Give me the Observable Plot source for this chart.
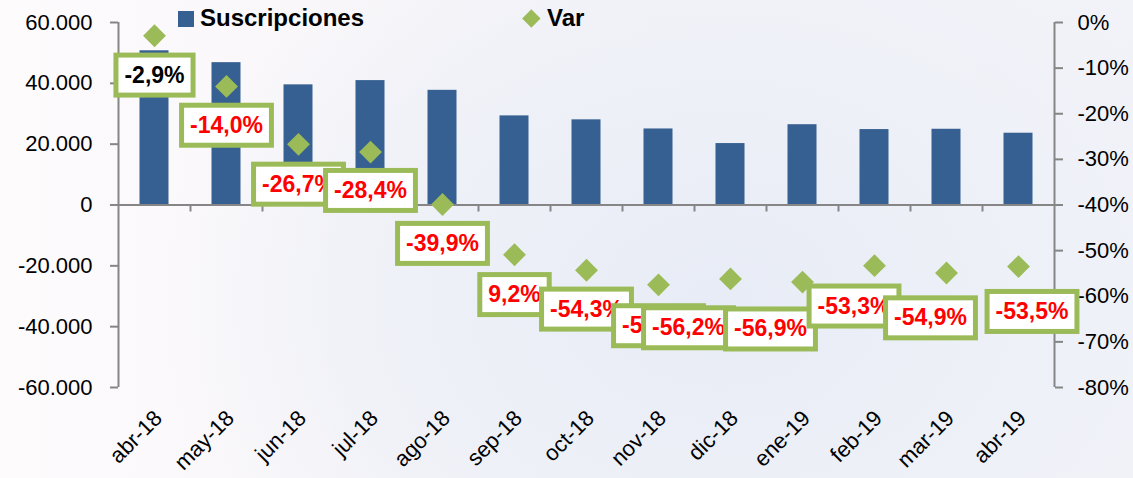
<!DOCTYPE html>
<html>
<head>
<meta charset="utf-8">
<script src="https://cdn.jsdelivr.net/npm/d3@7"></script>
<script src="https://cdn.jsdelivr.net/npm/@observablehq/plot@0.6"></script>
<style>
  html, body { margin: 0; padding: 0; }
  body {
    width: 1133px; height: 478px; overflow: hidden;
    font-family: "Liberation Sans", Arial, sans-serif;
    background:
      radial-gradient(ellipse 560px 420px at 720px 300px, #e8ecf6 0%, #edf0f7 50%, rgba(250,249,252,0) 100%),
      linear-gradient(90deg, #fdfbfc 0%, #f7f5f9 40%, #f2f3f9 100%);
  }
  #wrap { position: relative; width: 1133px; height: 478px; }
  #wrap svg { position: absolute; left: 0; top: 0; background: transparent; }
  .leg { position: absolute; font-size: 24px; line-height: 24px; font-weight: bold; color: #000; white-space: nowrap; }
  .sq { position: absolute; width: 16px; height: 16px; background: #376092; }
  .dm { position: absolute; width: 12.7px; height: 12.7px; background: #9BBB59; transform: rotate(45deg); }
</style>
</head>
<body>
<div id="wrap">
</div>
<script>
// ---- data ----
const months = ["abr-18","may-18","jun-18","jul-18","ago-18","sep-18","oct-18","nov-18","dic-18","ene-19","feb-19","mar-19","abr-19"];
const suscripciones = [50700, 46800, 39500, 40900, 37700, 29300, 28000, 25000, 20200, 26400, 24800, 24900, 23600];
const varPct = [-2.9, -14.0, -26.7, -28.4, -39.9, -50.9, -54.3, -57.5, -56.2, -56.9, -53.3, -54.9, -53.5];
const varLabels = ["-2,9%","-14,0%","-26,7%","-28,4%","-39,9%","9,2%","-54,3%","-57,5%","-56,2%","-56,9%","-53,3%","-54,9%","-53,5%"];
const leftTicks = [60000, 40000, 20000, 0, -20000, -40000, -60000];
const rightTicks = [0, -10, -20, -30, -40, -50, -60, -70, -80];
const seriesNames = ["Suscripciones", "Var"];

// ---- layout / style (not data) ----
const W = 1133, H = 478;
const mL = 118, mR = 79, mT = 22, mB = 91;
// pixel offset of each data-label box from its marker (labels were hand-placed in the original)
const labelNudge = [[0,39.5],[0,39],[0,40],[0,38.5],[0,39],[0,40],[0,39],[0,41],[-42,49],[-32,47],[-20.5,40.5],[-16,45],[13.5,45]];
const leftDomain = [-60000, 60000];
const rightDomain = [-80, 0];
const toLeft = v => leftDomain[0] + (v - rightDomain[0]) * (leftDomain[1] - leftDomain[0]) / (rightDomain[1] - rightDomain[0]);
const fromLeft = y => rightDomain[0] + (y - leftDomain[0]) * (rightDomain[1] - rightDomain[0]) / (leftDomain[1] - leftDomain[0]);
const fmtThousands = v => (v < 0 ? "-" : "") + d3.format(",")(Math.abs(v)).replace(/,/g, ".");
const fmtPct = v => (Math.round(v) < 0 ? "-" : "") + Math.abs(Math.round(v)) + "%";
const step = (W - mL - mR) / months.length;
const axisGray = "#868686";
const barBlue = "#376092";
const green = "#9BBB59";

const data = months.map((m, i) => ({
  month: m, susc: suscripciones[i], v: varPct[i], label: varLabels[i], first: i === 0
}));

const labelMarks = data.map((d, i) =>
  Plot.text([d], { x: "month", y: e => toLeft(e.v), dx: labelNudge[i][0], dy: labelNudge[i][1], text: "label",
    fontSize: 23, fontWeight: "bold", fill: d.first ? "#000000" : "#FF0000" })
);

const chart = Plot.plot({
  width: W, height: H,
  marginLeft: mL, marginRight: mR, marginTop: mT, marginBottom: mB,
  style: { background: "transparent", fontFamily: "'Liberation Sans', Arial, sans-serif", overflow: "visible" },
  x: { domain: months, padding: 0 },
  y: { domain: leftDomain },
  marks: [
    Plot.barY(data, { x: "month", y: "susc", fill: barBlue, insetLeft: 21.5, insetRight: 21.5 }),
    Plot.ruleY([0], { stroke: axisGray, strokeWidth: 2 }),
    Plot.ruleX(months.slice(1), { x: d => d, dx: -step / 2, y1: () => 0, y2: () => 0, insetBottom: -7, stroke: axisGray, strokeWidth: 2 }),
    Plot.ruleX([months[0]], { x: d => d, dx: -step / 2, y1: () => leftDomain[0], y2: () => leftDomain[1], stroke: axisGray, strokeWidth: 2 }),
    Plot.ruleX([months[months.length - 1]], { x: d => d, dx: step / 2, y1: () => leftDomain[0], y2: () => leftDomain[1], stroke: axisGray, strokeWidth: 2 }),
    Plot.axisY({ anchor: "left", ticks: leftTicks, tickSize: 8, tickPadding: 18, tickFormat: fmtThousands,
      fontSize: 22, stroke: axisGray, strokeWidth: 2, fill: "#000", label: null }),
    Plot.axisY({ anchor: "right", ticks: rightTicks.map(toLeft), tickSize: 8, tickPadding: 15, tickFormat: y => fmtPct(fromLeft(y)),
      fontSize: 22, stroke: axisGray, strokeWidth: 2, fill: "#000", label: null }),
    Plot.axisX({ anchor: "bottom", tickSize: 0, tickPadding: 27, tickRotate: -45, fontSize: 22, fill: "#000", label: null, dx: 4 }),
    Plot.dot(data, { x: "month", y: d => toLeft(d.v), symbol: "diamond2", r: 10.3, fill: green, stroke: "none" }),
    ...labelMarks
  ]
});

const wrap = document.getElementById("wrap");
wrap.appendChild(chart);

// data-label boxes: a framed rectangle behind each label, in series order
for (const g of chart.querySelectorAll('g[aria-label="text"]')) {
  for (const t of Array.from(g.querySelectorAll("text"))) {
    const b = t.getBBox();
    const r = document.createElementNS("http://www.w3.org/2000/svg", "rect");
    const padX = 8.5, hh = 40;
    const cy = b.y + b.height / 2 + 0.5;
    r.setAttribute("x", b.x - padX);
    r.setAttribute("y", cy - hh / 2);
    r.setAttribute("width", b.width + 2 * padX);
    r.setAttribute("height", hh);
    r.setAttribute("fill", "#ffffff");
    r.setAttribute("stroke", green);
    r.setAttribute("stroke-width", 5);
    if (t.getAttribute("transform")) r.setAttribute("transform", t.getAttribute("transform"));
    g.insertBefore(r, t);
  }
}

// legend overlapping the top margin as in the original
const legend = [
  { name: seriesNames[0], swatch: "sq", sx: 178, sy: 11, tx: 200 },
  { name: seriesNames[1], swatch: "dm", sx: 524.6, sy: 12.2, tx: 547 }
];
for (const l of legend) {
  const s = document.createElement("div");
  s.className = l.swatch;
  s.style.left = l.sx + "px"; s.style.top = l.sy + "px";
  wrap.appendChild(s);
  const t = document.createElement("div");
  t.className = "leg";
  t.textContent = l.name;
  t.style.left = l.tx + "px"; t.style.top = "6px";
  wrap.appendChild(t);
}
</script>
</body>
</html>
